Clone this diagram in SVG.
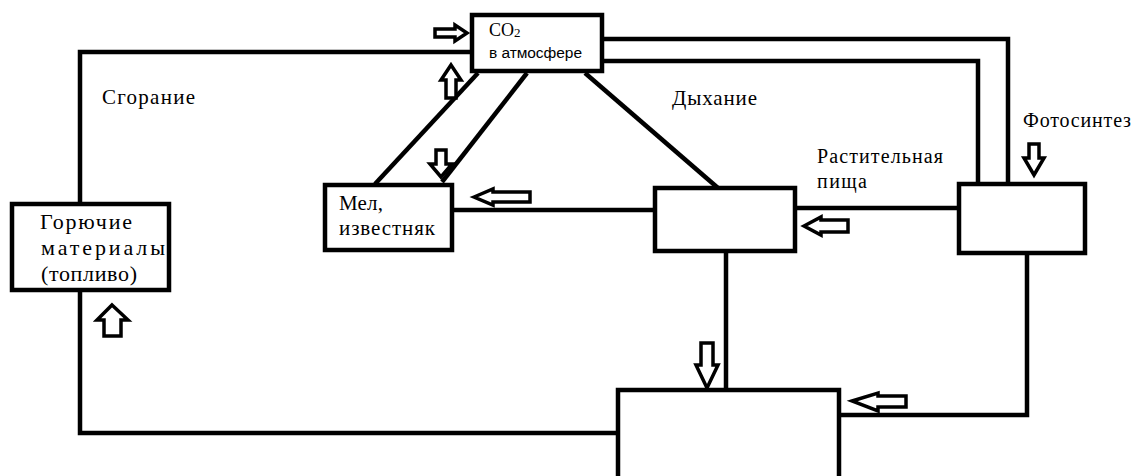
<svg xmlns="http://www.w3.org/2000/svg" width="1137" height="476" viewBox="0 0 1137 476">
<style>
.box{fill:#fff;stroke:#000;stroke-width:4.5}
.ln{fill:none;stroke:#000;stroke-width:4.5}
.ar{fill:#fff;stroke:#000;stroke-width:3.5;stroke-linejoin:miter}
.t{font-family:"Liberation Serif","Liberation Sans",serif;fill:#000}
.s{font-family:"Liberation Sans",Arial,sans-serif;fill:#000}
</style>
<rect width="1137" height="476" fill="#fff"/>
<g id="connectors">
<path class="ln" d="M472,52 H80 V204"/>
<path class="ln" d="M80,290 V433 H618"/>
<path class="ln" d="M478,73 L375,184"/>
<path class="ln" d="M527,73 L442,182"/>
<path class="ln" d="M585,73 L718,188"/>
<path class="ln" d="M602,39 H1008 V184"/>
<path class="ln" d="M602,61 H978 V184"/>
<path class="ln" d="M452,210 H655"/>
<path class="ln" d="M795,208 H959"/>
<path class="ln" d="M726,251 V390"/>
<path class="ln" d="M1027,253 V415 H839"/>
</g>
<g id="arrows">
<path class="ar" d="M435,29 L455,29 L455,25 L467,33 L455,41 L455,37 L435,37 Z"/>
<path class="ar" d="M451,65 L461,80 L456,80 L456,98 L446,98 L446,80 L441,80 Z"/>
<path class="ar" d="M436,150 L446,150 L446,164 L452,164 L441,177 L430,164 L436,164 Z"/>
<path class="ar" d="M474,197 L493,189 L493,192 L530,192 L530,202 L493,202 L493,205 Z"/>
<path class="ar" d="M804,226 L821,217 L821,220 L848,220 L848,232 L821,232 L821,235 Z"/>
<path class="ar" d="M1029,144 L1039,144 L1039,158 L1044,158 L1034,175 L1024,158 L1029,158 Z"/>
<path class="ar" d="M701,343 L713,343 L713,365 L718,365 L707,388 L696,365 L701,365 Z"/>
<path class="ar" d="M852,401 L878,393 L878,396 L906,396 L906,407 L878,407 L878,411 Z"/>
<path class="ar" d="M112,305 L128,320 L121,320 L121,336 L104,336 L104,320 L97,320 Z"/>
</g>
<g id="node-co2">
<rect class="box" x="472" y="15" width="130" height="56"/>
<text class="t" x="489" y="36" font-size="18">CO<tspan font-size="13" dy="1">2</tspan></text>
<text class="s" x="489" y="58" font-size="15.5" textLength="93" lengthAdjust="spacing">в атмосфере</text>
</g>
<g id="node-fuel">
<rect class="box" x="12" y="204" width="157" height="86"/>
<text class="t" x="40" y="229" font-size="22" textLength="92" lengthAdjust="spacing">Горючие</text>
<text class="t" x="41" y="255" font-size="22" textLength="124" lengthAdjust="spacing">материалы</text>
<text class="t" x="41" y="281" font-size="22" textLength="96" lengthAdjust="spacing">(топливо)</text>
</g>
<g id="node-chalk">
<rect class="box" x="325" y="185" width="127" height="65"/>
<text class="t" x="339" y="210" font-size="21" textLength="44" lengthAdjust="spacing">Мел,</text>
<text class="t" x="339" y="235" font-size="21" textLength="96" lengthAdjust="spacing">известняк</text>
</g>
<g id="node-animals">
<rect class="box" x="655" y="188" width="140" height="63"/>
</g>
<g id="node-plants">
<rect class="box" x="959" y="184" width="126" height="69"/>
</g>
<g id="node-bottom">
<rect class="box" x="618" y="390" width="221" height="100"/>
</g>
<g id="labels">
<text class="t" x="102" y="104" font-size="21" textLength="93" lengthAdjust="spacing">Сгорание</text>
<text class="t" x="672" y="105" font-size="21" textLength="85" lengthAdjust="spacing">Дыхание</text>
<text class="t" x="817" y="163" font-size="20" textLength="126" lengthAdjust="spacing">Растительная</text>
<text class="t" x="817" y="188" font-size="20" textLength="50" lengthAdjust="spacing">пища</text>
<text class="t" x="1023" y="127" font-size="20" textLength="108" lengthAdjust="spacing">Фотосинтез</text>
</g>
</svg>
